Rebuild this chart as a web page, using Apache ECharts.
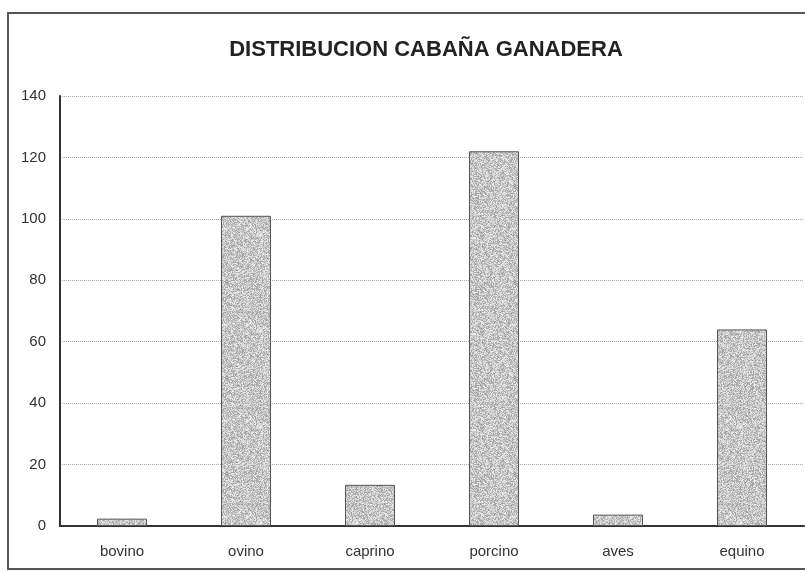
<!DOCTYPE html>
<html>
<head>
<meta charset="utf-8">
<script src="https://cdn.jsdelivr.net/npm/echarts@6/dist/echarts.min.js"></script>
<style>
  html, body { margin: 0; padding: 0; background: #fff; }
  #chart { width: 805px; height: 571px; }
</style>
</head>
<body>
<div id="chart"></div>
<script>
// Livestock census by species
const categories = ['bovino', 'ovino', 'caprino', 'porcino', 'aves', 'equino'];
const values = [2.4, 101, 13.4, 122, 3.7, 64];
const yTicks = { min: 0, max: 140, interval: 20 };
const titleText = 'DISTRIBUCION CABAÑA GANADERA';

// Speckled grey fill for the bars (deterministic hash noise)
function speckle() {
  const size = 96;
  const c = document.createElement('canvas');
  c.width = size; c.height = size;
  const ctx = c.getContext('2d');
  const img = ctx.createImageData(size, size);
  for (let y = 0; y < size; y++) {
    for (let x = 0; x < size; x++) {
      let h = (x * 374761393 + y * 668265263) | 0;
      h = Math.imul(h ^ (h >>> 13), 1274126177);
      h = (h ^ (h >>> 16)) >>> 0;
      const n = (h % 1000) / 1000;
      const g = Math.round(158 + n * 80);
      const i = (y * size + x) * 4;
      img.data[i] = g; img.data[i + 1] = g; img.data[i + 2] = g; img.data[i + 3] = 255;
    }
  }
  ctx.putImageData(img, 0, 0);
  return c;
}

const chart = echarts.init(document.getElementById('chart'), null, { renderer: 'canvas' });
const font = '"Liberation Sans", Arial, sans-serif';

chart.setOption({
  animation: false,
  backgroundColor: '#fff',
  title: {
    text: titleText,
    left: 421,
    top: 34,
    textAlign: 'center',
    textStyle: { fontFamily: font, fontSize: 22, fontWeight: 'bold', color: '#222' }
  },
  graphic: [{
    type: 'rect',
    shape: { x: 8, y: 13, width: 810, height: 556 },
    style: { fill: 'none', stroke: '#555', lineWidth: 2 },
    silent: true,
    z: -1
  }],
  grid: { left: 60, right: 1, top: 96, bottom: 45 },
  xAxis: {
    type: 'category',
    data: categories,
    axisLine: { lineStyle: { color: '#333', width: 2 } },
    axisTick: { show: false },
    axisLabel: { fontFamily: font, fontSize: 15, color: '#333', margin: 18 }
  },
  yAxis: {
    type: 'value',
    min: yTicks.min,
    max: yTicks.max,
    interval: yTicks.interval,
    axisLine: { show: true, lineStyle: { color: '#333', width: 2 } },
    axisTick: { show: false },
    axisLabel: { fontFamily: font, fontSize: 15, color: '#333', margin: 14 },
    splitLine: { lineStyle: { color: '#aaa', type: [1, 1], width: 1 } }
  },
  series: [{
    type: 'bar',
    data: values,
    barWidth: 50,
    itemStyle: {
      color: { image: speckle(), repeat: 'repeat' },
      borderColor: '#555',
      borderWidth: 1
    }
  }]
});
</script>
</body>
</html>
